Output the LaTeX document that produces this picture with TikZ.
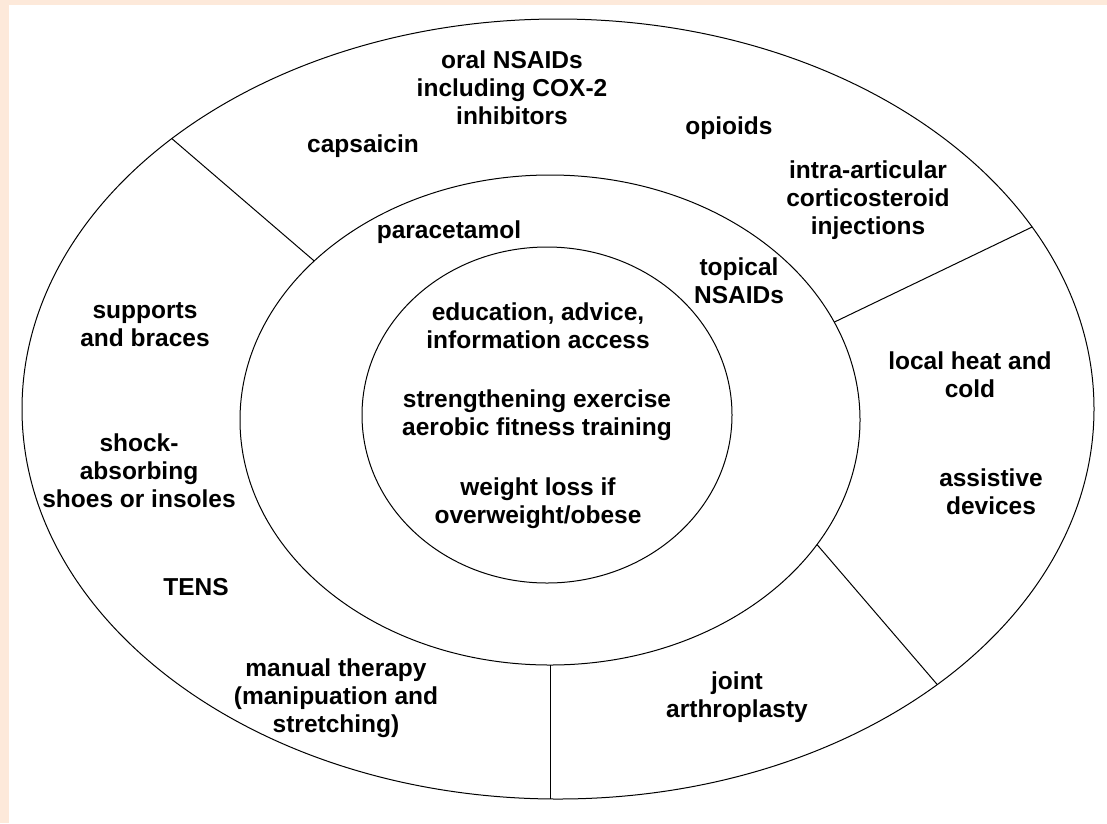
\documentclass[tikz,border=0pt]{standalone}
\usepackage{fontspec}
\setmainfont{Liberation Sans}
\usetikzlibrary{shapes.geometric}
\definecolor{peach}{RGB}{253,233,218}
\begin{document}
\begin{tikzpicture}[x=1pt,y=-1pt,
  ring/.style={draw=black,line width=1pt,shape=ellipse,inner sep=0pt,outer sep=0pt},
  lab/.style={align=center,font=\fontsize{24.5}{28}\selectfont\bfseries,inner sep=0pt},
  divider/.style={draw=black,line width=1pt}]
\useasboundingbox (0,0) rectangle (1107,823);
\fill[peach] (0,0) rectangle (1107,823);
\fill[white] (9,5) rectangle (1107,823);
% rings
\node[ring,minimum width=1072pt,minimum height=780pt] (outer) at (558,409) {};
\node[ring,minimum width=620pt,minimum height=490pt] (mid) at (550,420) {};
\node[ring,minimum width=370pt,minimum height=336pt] (inner) at (547,415) {};
% dividers
\draw[divider] (mid.146.0) -- (outer.145.3);
\draw[divider] (mid.19.1) -- (outer.21.0);
\draw[divider] (mid.-25.8) -- (outer.-36.6);
\draw[divider] (mid.south) -- (mid.south |- outer.south);
% outer ring labels
\node[lab] (oral) at (512,88) {oral NSAIDs\\including COX-2\\inhibitors};
\node[lab] (caps) at (363,146) {capsaicin};
\node[lab] (opi) at (729,128) {opioids};
\node[lab] (intra) at (868,200) {intra-articular\\corticosteroid\\injections};
\node[lab] (supp) at (145,325) {supports\\and braces};
\node[lab] (heat) at (970,375) {local heat and\\cold};
\node[lab] (shock) at (139,471) {shock-\\absorbing\\shoes or insoles};
\node[lab] (assist) at (991,492) {assistive\\devices};
\node[lab] (tens) at (196,587) {TENS};
\node[lab] (manual) at (336,698) {manual therapy\\(manipuation and\\stretching)};
\node[lab] (joint) at (737,697) {joint\\arthroplasty};
% middle ring labels
\node[lab] (para) at (449,232) {paracetamol};
\node[lab] (topical) at (739,281) {topical\\NSAIDs};
% inner labels
\node[lab] (edu) at (538,326) {education, advice,\\information access};
\node[lab] (strength) at (537,415) {strengthening exercise\\aerobic fitness training};
\node[lab] (weight) at (538,503) {weight loss if\\overweight/obese};
\end{tikzpicture}
\end{document}
